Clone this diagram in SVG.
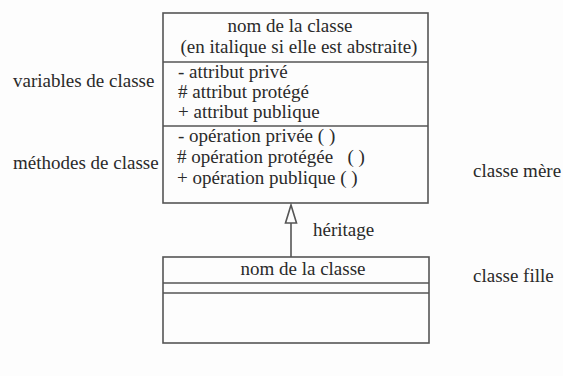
<svg xmlns="http://www.w3.org/2000/svg" width="563" height="376" viewBox="0 0 563 376">
<style>
text{font-size:19px;fill:#2a2a2a}
.box{fill:none;stroke:#555;stroke-width:1.6}
.mid{text-anchor:middle}
</style>
<rect width="563" height="376" fill="#fdfdfd"/>
<g font-family="'Liberation Serif', 'Times New Roman', 'DejaVu Serif', serif">
<g id="classe-mere">
<rect class="box" x="163" y="13" width="265" height="190"/>
<line class="box" x1="163" y1="62" x2="428" y2="62"/>
<line class="box" x1="163" y1="126" x2="428" y2="126"/>
<text class="mid" x="290" y="32">nom de la classe</text>
<text class="mid" x="299" y="53">(en italique si elle est abstraite)</text>
<text x="178" y="78">- attribut privé</text>
<text x="178" y="98"># attribut protégé</text>
<text x="178" y="118">+ attribut publique</text>
<text x="178" y="142">- opération privée ( )</text>
<text x="177" y="163" xml:space="preserve"># opération protégée   ( )</text>
<text x="177" y="184">+ opération publique ( )</text>
</g>
<g id="classe-fille">
<rect class="box" x="163" y="257" width="266" height="86"/>
<line class="box" x1="163" y1="283" x2="429" y2="283"/>
<line class="box" x1="163" y1="293" x2="429" y2="293"/>
<text class="mid" x="303" y="275">nom de la classe</text>
</g>
<g id="connecteurs">
<line class="box" x1="291" y1="223" x2="291" y2="257"/>
<polygon points="291,205 285.5,223 296.5,223" fill="#fdfdfd" stroke="#555" stroke-width="1.6"/>
</g>
<g id="labels">
<text x="13" y="87">variables de classe</text>
<text x="13" y="169">méthodes de classe</text>
<text x="473" y="177">classe mère</text>
<text x="473" y="282">classe fille</text>
<text x="313" y="236">héritage</text>
</g>
</g>
</svg>
